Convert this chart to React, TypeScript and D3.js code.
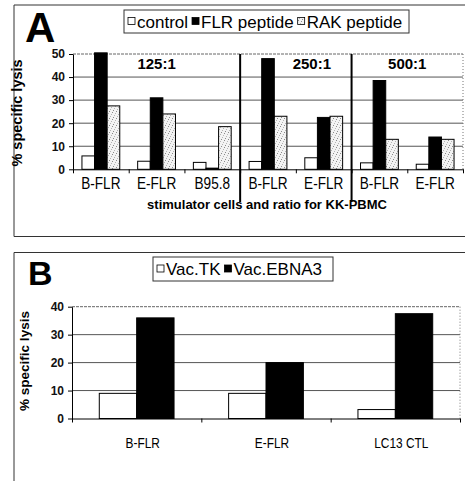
import React, { useEffect, useRef } from 'react';
import * as d3 from 'd3';

// panel A data
const catsA = ['B-FLR', 'E-FLR', 'B95.8', 'B-FLR', 'E-FLR', 'B-FLR', 'E-FLR'];
const seriesA = ['control', 'FLR peptide', 'RAK peptide'];
const controlA = [5.8, 3.5, 3, 3.4, 5, 2.8, 2.2];
const flrA = [50.5, 31, 0.5, 48, 22.5, 38.5, 14];
const rakA = [27.5, 24, 18.5, 23, 23, 13, 13];
const ratiosA = [
  { label: '125:1', from: 0, to: 3 },
  { label: '250:1', from: 3, to: 5 },
  { label: '500:1', from: 5, to: 7 },
];
const ticksA = [0, 10, 20, 30, 40, 50];

// panel B data
const catsB = ['B-FLR', 'E-FLR', 'LC13 CTL'];
const seriesB = ['Vac.TK', 'Vac.EBNA3'];
const tkB = [9, 9, 3.2];
const ebnaB = [36, 20, 37.5];
const ticksB = [0, 10, 20, 30, 40];

const FONT = '"Liberation Sans", Arial, sans-serif';

const App = () => {
  const svgRef = useRef<SVGSVGElement>(null);

  useEffect(() => {
    const svg = d3.select(svgRef.current);
    svg.selectAll('*').remove();

    // stipple pattern for RAK peptide
    const defs = svg.append('defs');
    const pat = defs.append('pattern')
      .attr('id', 'stip')
      .attr('width', 7).attr('height', 7)
      .attr('patternUnits', 'userSpaceOnUse');
    pat.append('rect').attr('width', 7).attr('height', 7).attr('fill', '#f3f3f3');
    [[0, 0], [3, 1], [5, 4], [1, 5], [6, 2], [2, 3], [4, 6]].forEach(([px, py], i) => {
      pat.append('rect').attr('x', px).attr('y', py).attr('width', 1).attr('height', 1)
        .attr('fill', i % 3 ? '#b5b5b5' : '#8a8a8a');
    });

    const fills: Record<string, string> = {
      'control': '#fff', 'FLR peptide': '#000', 'RAK peptide': 'url(#stip)',
      'Vac.TK': '#fff', 'Vac.EBNA3': '#000',
    };

    const drawLegend = (x: number, y: number, w: number, h: number, items: string[], fs: number) => {
      const g = svg.append('g');
      g.append('rect').attr('x', x).attr('y', y).attr('width', w).attr('height', h)
        .attr('fill', '#fff').attr('stroke', '#333').attr('stroke-width', 1);
      let cx = x + 4;
      items.forEach(name => {
        g.append('rect').attr('x', cx).attr('y', y + h / 2 - 4).attr('width', 7).attr('height', 7)
          .attr('fill', fills[name]).attr('stroke', '#000').attr('stroke-width', 0.8);
        cx += 9;
        const t = g.append('text').attr('x', cx).attr('y', y + h / 2 + fs * 0.36)
          .style('font-family', FONT).style('font-size', fs + 'px').attr('fill', '#000')
          .text(name);
        const node = t.node() as SVGTextElement;
        cx += node.getComputedTextLength() + 4;
      });
    };

    const drawPanel = (opts: any) => {
      const { left, right, top, bottom, max, ticks, cats, series, values, barPad } = opts;
      const g = svg.append('g');
      const y = d3.scaleLinear().domain([0, max]).range([bottom, top]);
      const x = d3.scaleBand().domain(cats.map((_: string, i: number) => String(i)))
        .range([left, right]).padding(0);
      const xi = d3.scaleBand().domain(series).range([0, x.bandwidth()])
        .paddingInner(0).paddingOuter(barPad);

      // gridlines
      ticks.filter((t: number) => t > 0 && t < max).forEach((t: number) => {
        g.append('line').attr('x1', left).attr('x2', right).attr('y1', y(t)).attr('y2', y(t))
          .attr('stroke', '#555').attr('stroke-width', 1);
      });
      g.append('line').attr('x1', left).attr('x2', right).attr('y1', y(max)).attr('y2', y(max))
        .attr('stroke', '#666').attr('stroke-width', 1).attr('stroke-dasharray', '3,1');
      g.append('line').attr('x1', right).attr('x2', right).attr('y1', y(max)).attr('y2', bottom)
        .attr('stroke', '#777').attr('stroke-width', 1).attr('stroke-dasharray', '1,2');

      // bars
      series.forEach((s: string, si: number) => {
        g.selectAll(null).data(values[si]).enter().append('rect')
          .attr('x', (_: number, i: number) => (x(String(i)) as number) + (xi(s) as number))
          .attr('y', (d: number) => y(d))
          .attr('width', xi.bandwidth())
          .attr('height', (d: number) => bottom - y(d))
          .attr('fill', fills[s])
          .attr('stroke', '#000').attr('stroke-width', 1);
      });

      // axes
      const ya = g.append('g').attr('transform', `translate(${left},0)`)
        .call(d3.axisLeft(y).tickValues(ticks).tickSize(4).tickSizeOuter(0).tickPadding(4));
      ya.select('.domain').attr('stroke', '#000');
      ya.selectAll('text').style('font-family', FONT).style('font-size', '12px')
        .style('font-weight', 'bold').attr('fill', '#111');

      const xa = g.append('g').attr('transform', `translate(0,${bottom})`)
        .call(d3.axisBottom(d3.scaleLinear().domain([0, cats.length]).range([left, right]))
          .tickValues(d3.range(cats.length + 1)).tickSize(4).tickSizeOuter(0).tickFormat(() => ''));
      xa.select('.domain').attr('stroke', '#000');

      return { g, x, y };
    };

    // category labels: narrow, tall lettering as in the scan
    const catLabels = (P: any, cats: string[], yb: number, fs: number, dx: number) => {
      P.g.selectAll(null).data(cats).enter().append('text')
        .attr('transform', (_: string, i: number) =>
          `translate(${(P.x(String(i)) as number) + P.x.bandwidth() / 2 + dx},${yb}) scale(0.85,1)`)
        .attr('text-anchor', 'middle')
        .style('font-family', FONT).style('font-size', fs + 'px').attr('fill', '#000')
        .text((d: string) => d);
    };

    // panel frames
    svg.append('path').attr('d', 'M470,5 H14 V236.5 H470').attr('fill', 'none')
      .attr('stroke', '#333').attr('stroke-width', 1);
    svg.append('path').attr('d', 'M470,252.5 H14 V490').attr('fill', 'none')
      .attr('stroke', '#333').attr('stroke-width', 1);

    // ---- Panel A ----
    const A = drawPanel({
      left: 73, right: 463, top: 54, bottom: 169.3, max: 50, ticks: ticksA,
      cats: catsA, series: seriesA, values: [controlA, flrA, rakA], barPad: 0.71,
    });
    catLabels(A, catsA, 189, 16, 0);
    const ratioDx = [0, 16, 0];
    ratiosA.forEach((r, i) => {
      const x0 = A.x(String(r.from)) as number;
      const x1 = (A.x(String(r.to - 1)) as number) + A.x.bandwidth();
      if (i > 0) {
        A.g.append('line').attr('x1', x0).attr('x2', x0).attr('y1', 54).attr('y2', 202)
          .attr('stroke', '#000').attr('stroke-width', 2);
      }
      A.g.append('text').attr('x', (x0 + x1) / 2 + ratioDx[i]).attr('y', 69)
        .attr('text-anchor', 'middle')
        .style('font-family', FONT).style('font-size', '15px').style('font-weight', 'bold')
        .text(r.label);
    });
    A.g.append('text').attr('x', 267).attr('y', 209).attr('text-anchor', 'middle')
      .style('font-family', FONT).style('font-size', '13px').style('font-weight', 'bold')
      .text('stimulator cells and ratio for KK-PBMC');
    A.g.append('text').attr('transform', 'translate(22,113) rotate(-90)')
      .attr('text-anchor', 'middle')
      .style('font-family', FONT).style('font-size', '14.5px').style('font-weight', 'bold')
      .text('% specific lysis');
    svg.append('text').attr('x', 25).attr('y', 42)
      .style('font-family', FONT).style('font-size', '42px').style('font-weight', 'bold')
      .text('A');
    drawLegend(124, 10, 285, 23, seriesA, 17);

    // ---- Panel B ----
    const B = drawPanel({
      left: 72, right: 460, top: 306.7, bottom: 418.5, max: 40, ticks: ticksB,
      cats: catsB, series: seriesB, values: [tkB, ebnaB], barPad: 0.73,
    });
    catLabels(B, catsB, 448, 14, 6);
    B.g.append('text').attr('transform', 'translate(29,361) rotate(-90)')
      .attr('text-anchor', 'middle')
      .style('font-family', FONT).style('font-size', '13.5px').style('font-weight', 'bold')
      .text('% specific lysis');
    svg.append('text').attr('x', 28).attr('y', 285)
      .style('font-family', FONT).style('font-size', '34px').style('font-weight', 'bold')
      .text('B');
    drawLegend(153, 257, 180, 24, seriesB, 17);
  }, []);

  return (
    <svg ref={svgRef} width={465} height={481}
      style={{ position: 'absolute', left: 0, top: 0, background: '#fff' }} />
  );
};

export default App;
